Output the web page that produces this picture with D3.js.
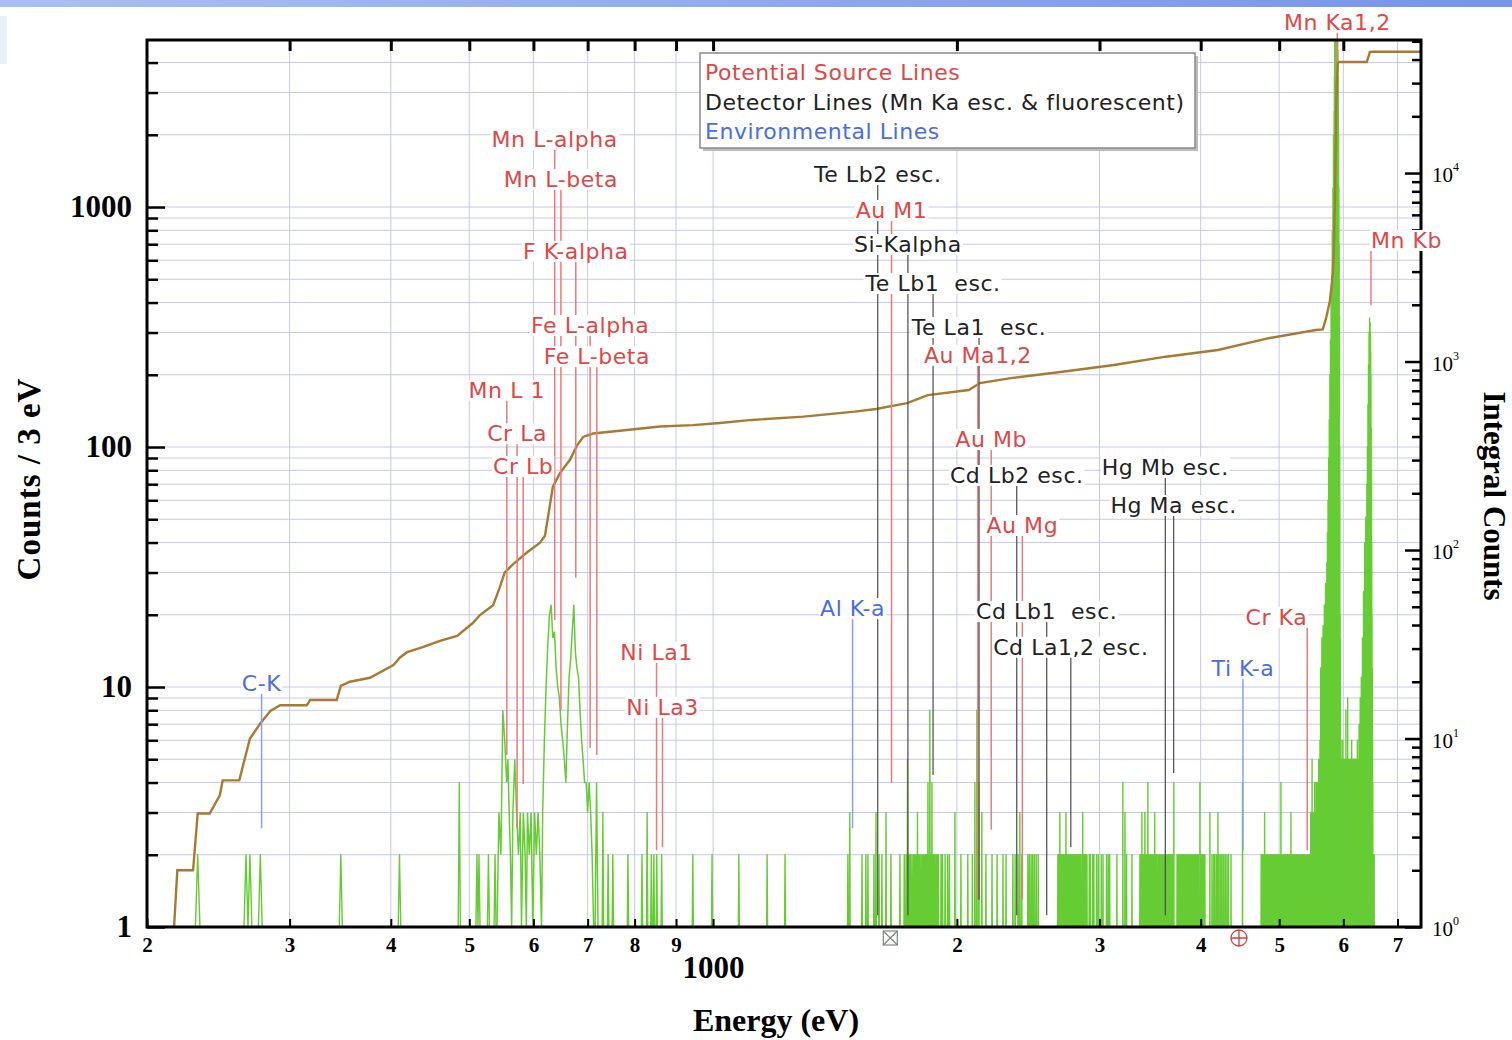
<!DOCTYPE html>
<html>
<head>
<meta charset="utf-8">
<script src="https://cdn.jsdelivr.net/npm/d3@7"></script>
<style>
  body { margin: 0; background: #fff; }
  svg { display: block; }
</style>
</head>
<body>
<svg id="chart" width="1512" height="1040"></svg>
<script>
// ---------------- axis ticks ----------------
const xTicks = [200, 300, 400, 500, 600, 700, 800, 900, 1000, 2000, 3000, 4000, 5000, 6000, 7000];
const xTickLabels = ["2", "3", "4", "5", "6", "7", "8", "9", "1000", "2", "3", "4", "5", "6", "7"];
const yTicks = [1, 10, 100, 1000];
const yTickLabels = ["1", "10", "100", "1000"];
const integralExponents = [0, 1, 2, 3, 4];

// ---------------- spectrum (counts per 3 eV bin) ----------------
// isolated low-energy bins [energy eV, counts]
const lowBins = [[231, 2], [265, 2], [268, 2], [276, 2], [347, 2], [410, 2], [486, 4], [511, 2], [514, 2],
  [528, 2], [538, 2], [731, 3], [742, 2], [752, 2], [785, 2], [817, 2], [829, 3], [839, 2], [845, 2],
  [852, 2], [864, 2], [944, 2], [997, 2], [1076, 2], [1166, 2], [1227, 2]];

// contiguous bins through the Mn L / F K / Fe L band
const lBandE = [541, 544, 547, 550, 553, 556, 558, 560, 562, 564, 566, 569, 572, 575, 578, 580, 583, 586, 588, 590,
  593, 596, 599, 602, 605, 608, 611, 614, 616, 619, 622, 625, 628, 631, 634, 637, 640, 643, 646, 649,
  652, 655, 658, 661, 664, 667, 670, 673, 676, 679, 682, 685, 688, 691, 694, 697, 700, 703, 706, 709,
  712, 715, 718, 721];
const lBandC = [1, 3, 2, 8, 6, 4, 5, 3, 2, 1, 3, 5, 3, 2, 3, 1, 3, 2, 1, 3,
  2, 3, 1, 3, 2, 3, 2, 1, 3, 6, 10, 15, 20, 22, 16, 17, 12, 10, 9, 7,
  6, 5, 4, 7, 11, 13, 17, 22, 14, 12, 11, 8, 6, 5, 4, 4, 3, 4, 3, 2,
  1, 1, 4, 1];

// 1.4 - 5.5 keV: bins holding 2 counts
const midTwos = [1467, 1527, 1544, 1553, 1580, 1603, 1616, 1658, 1701,
  1722, 1731, 1745, 1752, 1760, 1768, 1775, 1781, 1795, 1802, 1810, 1816, 1823, 1830, 1836, 1848, 1857, 1870,
  1876, 1884, 1890, 1897, 1912, 1920, 1934, 1948, 1958,
  2023, 2063, 2090, 2172, 2210, 2242, 2280, 2300, 2345, 2360, 2380, 2405, 2447, 2458, 2470, 2481, 2493, 2506, 2520,
  2665, 2673, 2688, 2696, 2705, 2713, 2720, 2735, 2743, 2752, 2760, 2768, 2776, 2785, 2795, 2803, 2812, 2820,
  2830, 2838, 2847, 2868, 2877, 2886, 2895, 2914, 2923, 2942, 2952, 2975, 2990, 3015, 3030, 3060, 3075, 3088,
  3152, 3240, 3290,
  3365, 3372, 3392, 3400, 3420, 3430, 3450, 3460, 3470, 3480, 3490, 3500, 3520, 3530, 3545, 3558, 3570, 3582,
  3595, 3610, 3622, 3635, 3648, 3660, 3672, 3685, 3695,
  3740, 3752, 3765, 3778, 3790, 3803, 3815, 3828, 3840, 3853, 3866, 3880, 3893, 3906, 3920, 3933, 3946, 3960,
  3973, 4005, 4020, 4035, 4048,
  4130, 4150, 4165, 4185, 4215, 4235, 4250, 4270, 4290, 4310, 4330, 4360,
  4750, 4765, 4780, 4810, 4825, 4840, 4856, 4870, 4885, 4900, 4916, 4932, 4948, 4964, 4980, 4996, 5010, 5040,
  5056, 5072, 5090, 5106, 5122, 5140, 5156, 5175, 5192, 5210, 5228, 5246, 5264, 5282, 5300, 5320, 5340, 5360,
  5380, 5400, 5420, 5440];

// 1.4 - 5.5 keV: bins above 2 counts [energy eV, counts]
const midPeaks = [[1475, 3], [1589, 3], [1635, 3], [1738, 5], [1788, 3], [1842, 4], [1852, 8], [1863, 4],
  [1989, 3], [2105, 4], [2117, 8], [2129, 4], [2147, 3], [2392, 3], [2680, 3], [2727, 3], [2860, 3],
  [3206, 4], [3225, 3], [3384, 3], [3413, 3], [3442, 4], [3510, 3], [3706, 4], [3991, 4], [4106, 3],
  [4201, 3], [4505, 4], [4797, 3], [5025, 4], [5170, 3]];

// Mn K region bins [energy eV, counts]
const mnKBins = [[5456, 2], [5470, 3], [5490, 5], [5500, 2], [5510, 3], [5520, 2], [5530, 4], [5540, 2], [5545, 3],
  [5555, 4], [5562, 2], [5565, 3], [5575, 4], [5580, 2], [5585, 3], [5595, 5], [5600, 2], [5605, 4], [5610, 2],
  [5615, 6], [5620, 3], [5625, 12], [5630, 5], [5635, 8], [5640, 4], [5645, 16], [5650, 6], [5655, 10], [5660, 5],
  [5665, 18], [5670, 8], [5675, 14], [5680, 9], [5685, 22], [5690, 12], [5695, 19], [5700, 10], [5705, 27],
  [5710, 15], [5715, 24], [5720, 18], [5725, 33], [5730, 25], [5735, 44], [5740, 35], [5745, 60], [5750, 50],
  [5755, 90], [5760, 75], [5765, 130], [5770, 110], [5775, 200], [5780, 170], [5785, 280], [5790, 250],
  [5795, 400], [5800, 360], [5805, 520], [5810, 480], [5815, 800], [5820, 700], [5825, 1200], [5830, 1000],
  [5835, 2000], [5840, 1800], [5845, 2500], [5850, 3500], [5855, 5200], [5860, 6000], [5865, 7000], [5870, 7500],
  [5875, 8000], [5880, 8000], [5885, 8000], [5890, 7800], [5895, 7500], [5900, 7000], [5905, 6000], [5910, 4500],
  [5915, 3500], [5920, 2000], [5925, 1200], [5930, 700], [5935, 350], [5940, 100], [5942, 60], [5946, 20],
  [5950, 16], [5960, 6], [5966, 3], [5970, 5], [5976, 2], [5980, 4], [5985, 3], [5990, 6], [5995, 2], [6000, 3],
  [6005, 4], [6010, 5], [6015, 2], [6020, 4], [6025, 3], [6030, 5], [6038, 2], [6045, 8], [6050, 4], [6055, 5],
  [6060, 3], [6065, 4], [6070, 2], [6075, 9], [6080, 4], [6085, 5], [6090, 2], [6095, 3], [6100, 4], [6105, 5],
  [6110, 2], [6115, 4], [6120, 3], [6125, 5], [6130, 2], [6135, 3], [6140, 4], [6145, 6], [6150, 3], [6155, 5],
  [6160, 2], [6165, 4], [6170, 3], [6175, 5], [6180, 4], [6185, 2], [6190, 3], [6195, 5], [6200, 2], [6205, 4],
  [6210, 3], [6215, 5], [6220, 2], [6225, 3], [6230, 4], [6235, 5], [6240, 3], [6245, 6], [6250, 4], [6255, 4],
  [6260, 2], [6265, 5], [6270, 3], [6275, 7], [6280, 4], [6285, 5], [6290, 3], [6295, 9], [6300, 5], [6305, 6],
  [6310, 4], [6315, 11], [6320, 6], [6325, 8], [6330, 5], [6335, 16], [6340, 8], [6345, 12], [6350, 10],
  [6355, 25], [6360, 14], [6365, 20], [6370, 18], [6375, 40], [6380, 25], [6385, 30], [6390, 28], [6395, 51],
  [6400, 40], [6405, 45], [6410, 50], [6415, 70], [6420, 60], [6425, 100], [6430, 90], [6435, 150], [6440, 130],
  [6445, 220], [6450, 200], [6455, 300], [6460, 280], [6465, 345], [6470, 330], [6475, 330], [6480, 300],
  [6485, 250], [6490, 200], [6495, 120], [6500, 80], [6505, 40], [6510, 20], [6515, 12], [6520, 6], [6525, 4],
  [6535, 2], [6550, 2]];

// ---------------- running integral (right axis) ----------------
const integralE = [200, 216, 218, 228, 231, 239, 246, 248, 260, 268, 276, 284, 292, 315, 318, 343, 347, 356, 377, 403,
  411, 419, 438, 460, 483, 505, 515, 535, 545, 553, 566, 589, 611, 620, 625, 634, 647, 666, 679, 691,
  711, 783, 860, 944, 1020, 1117, 1293, 1496, 1589, 1736, 1842, 2069, 2135, 2332, 2700, 3126, 3623, 4201, 4870, 5549,
  5661, 5719, 5775, 5808, 5824, 5841, 5858, 5886, 5908, 6415, 6470, 6507, 7483];
const integralC = [1, 1, 2, 2, 4, 4, 5, 6, 6, 10, 12, 14, 15, 15, 16, 16, 19, 20, 21, 24.5,
  27, 28.7, 30.5, 33, 35, 41, 45, 51, 63, 76, 84, 97, 109, 119, 147, 216, 256, 302, 358, 398,
  415, 433, 452, 460, 472, 490, 510, 542, 560, 602, 664, 706, 769, 817, 883, 958, 1061, 1152, 1334, 1469,
  1480, 1729, 2094, 2609, 2985, 3905, 6934, 28240, 38800, 38800, 43850, 44000, 44000];

// ---------------- line identifications (energy eV) ----------------
const sourceLines = [
  ["Mn L-alpha", 637.4], ["Mn L-beta", 648.8], ["F K-alpha", 676.8], ["Fe L-alpha", 705.0], ["Fe L-beta", 718.5],
  ["Mn L 1", 556.3], ["Cr La", 572.8], ["Cr Lb", 582.8], ["Ni La1", 851.5], ["Ni La3", 866.0],
  ["Au M1", 1661], ["Au Ma1,2", 2122.9], ["Au Mb", 2204.8], ["Au Mg", 2409.0], ["Cr Ka", 5414.7],
  ["Mn Ka1,2", 5898.8], ["Mn Kb", 6490.4]];
const detectorLines = [
  ["Te Lb2 esc.", 1597], ["Si-Kalpha", 1740], ["Te Lb1  esc.", 1869], ["Te La1  esc.", 2130],
  ["Cd Lb2 esc.", 2371], ["Cd Lb1  esc.", 2582], ["Cd La1,2 esc.", 2765], ["Hg Mb esc.", 3617], ["Hg Ma esc.", 3704]];
const environmentalLines = [["C-K", 277], ["Al K-a", 1486.7], ["Ti K-a", 4510.8]];

// tag placement: [label height (counts), line end (counts), anchor]
const tagPlacement = {
  "Mn L-alpha": [1919, 19, "middle"], "Mn L-beta": [1308, 8.0, "middle"], "F K-alpha": [656, 28.5, "middle"],
  "Fe L-alpha": [322, 5.57, "middle"], "Fe L-beta": [239, 5.21, "middle"], "Mn L 1": [173, 5.21, "middle"],
  "Cr La": [114, 2.58, "middle"], "Cr Lb": [83.3, 3.94, "middle"], "Ni La1": [14.0, 2.09, "middle"],
  "Ni La3": [8.26, 2.15, "middle"], "Au M1": [972, 3.98, "middle"], "Au Ma1,2": [242, 1.30, "middle"],
  "Au Mb": [108, 2.54, "middle"], "Au Mg": [47.3, 1.30, "middle"], "Cr Ka": [19.6, 2.09, "end"],
  "Mn Ka1,2": [5902, 4000, "middle"], "Mn Kb": [729, 390, "start"],
  "Te Lb2 esc.": [1373, 1.12, "middle"], "Si-Kalpha": [701, 1.12, "middle"], "Te Lb1  esc.": [482, 4.3, "middle"],
  "Te La1  esc.": [316, 1.30, "middle"], "Cd Lb2 esc.": [76.4, 1.12, "middle"], "Cd Lb1  esc.": [20.7, 1.12, "middle"],
  "Cd La1,2 esc.": [14.7, 2.15, "middle"], "Hg Mb esc.": [82.5, 1.12, "middle"], "Hg Ma esc.": [57.3, 4.38, "middle"],
  "C-K": [10.4, 2.58, "middle"], "Al K-a": [21.3, 2.58, "middle"], "Ti K-a": [12.0, 2.09, "middle"]
};

const legendItems = ["Potential Source Lines", "Detector Lines (Mn Ka esc. & fluorescent)", "Environmental Lines"];
const cursorMarks = [["square", 1655], ["circle", 4460]];

// ---------------- layout ----------------
const plot = { left: 147, right: 1421, top: 40, bottom: 927 };
const colors = {
  source: "#e04848", sourceLine: "#ec7a7a",
  detector: "#222222", detectorLine: "#4a4a4a",
  env: "#4a6ee0", envLine: "#86a2ea",
  green: "#66cc33", brown: "#a87a32", grid: "#c6c8f2"
};
const tagFont = { family: "DejaVu Sans", size: 22, spacing: "0.55px" };

const svg = d3.select("#chart");
const x = d3.scaleLog().domain([200, 7483]).range([plot.left, plot.right]);
const y = d3.scaleLog().domain([1, 4966]).range([plot.bottom, plot.top]);
const yInt = d3.scaleLog().domain([1, 50800]).range([plot.bottom, plot.top]);

// top banner
const defs = svg.append("defs");
const grad = defs.append("linearGradient").attr("id", "band").attr("x1", 0).attr("x2", 1);
grad.append("stop").attr("offset", 0).attr("stop-color", "#a9bff3");
grad.append("stop").attr("offset", 1).attr("stop-color", "#7694e8");
svg.append("rect").attr("x", 0).attr("y", 0).attr("width", 1512).attr("height", 7).attr("fill", "url(#band)");
svg.append("rect").attr("x", 0).attr("y", 16).attr("width", 7).attr("height", 48).attr("fill", "#eaf0fa");

defs.append("clipPath").attr("id", "plotClip").append("rect")
  .attr("x", plot.left).attr("y", plot.top)
  .attr("width", plot.right - plot.left).attr("height", plot.bottom - plot.top);

// grid
const minorY = [];
[1, 10, 100, 1000].forEach(d => [1, 2, 3, 4, 5, 6, 7, 8, 9].forEach(m => {
  const v = m * d; if (v > 1 && v <= 4966) minorY.push(v);
}));
const grid = svg.append("g").attr("stroke", colors.grid).attr("stroke-width", 1);
grid.selectAll("line.gx").data(xTicks.filter(v => v > 200)).join("line")
  .attr("x1", d => x(d)).attr("x2", d => x(d)).attr("y1", plot.top).attr("y2", plot.bottom);
grid.selectAll("line.gy").data(minorY).join("line")
  .attr("x1", plot.left).attr("x2", plot.right).attr("y1", d => y(d)).attr("y2", d => y(d));

// spectrum
const specG = svg.append("g").attr("clip-path", "url(#plotClip)");
const spikePath = bins => bins.map(([e, c]) =>
  `M${x(e - 1.5)},${y(1)}L${x(e)},${y(c)}L${x(e + 1.5)},${y(1)}`).join("");
const allSpikes = lowBins.concat(midTwos.map(e => [e, 2]), midPeaks, mnKBins);
specG.append("path").attr("d", spikePath(allSpikes))
  .attr("fill", "none").attr("stroke", colors.green).attr("stroke-width", 1.4).attr("stroke-linejoin", "round");
specG.append("path").datum(lBandE.map((e, i) => [e, lBandC[i]]))
  .attr("d", d3.line().x(d => x(d[0])).y(d => y(d[1])))
  .attr("fill", "none").attr("stroke", colors.green).attr("stroke-width", 1.5);

// running integral
specG.append("path").datum(integralE.map((e, i) => [e, integralC[i]]))
  .attr("d", d3.line().x(d => x(d[0])).y(d => yInt(d[1])))
  .attr("fill", "none").attr("stroke", colors.brown).attr("stroke-width", 2.4);

// identification lines
const groups = [
  [sourceLines, colors.sourceLine, colors.source, 1.5],
  [detectorLines, colors.detectorLine, colors.detector, 1.2],
  [environmentalLines, colors.envLine, colors.env, 1.5]
];
const lineG = svg.append("g");
groups.forEach(([list, lc, tc, w]) => {
  list.forEach(([name, e]) => {
    const p = tagPlacement[name];
    lineG.append("line").attr("x1", x(e)).attr("x2", x(e))
      .attr("y1", y(p[0])).attr("y2", y(p[1])).attr("stroke", lc).attr("stroke-width", w);
  });
});

// axes
const axG = svg.append("g").attr("color", "#000");
const bottomAxis = axG.append("g").attr("transform", `translate(0,${plot.bottom})`)
  .call(d3.axisBottom(x).tickValues(xTicks).tickSize(-8).tickPadding(10)
    .tickFormat((d, i) => xTickLabels[i]));
bottomAxis.selectAll("text").attr("font-family", "Liberation Serif").attr("font-weight", "bold")
  .attr("font-size", 21);
bottomAxis.selectAll(".tick").filter(d => d === 1000).select("text")
  .attr("font-size", 31).attr("y", 29);
bottomAxis.selectAll("line").attr("stroke-width", 2);

const topAxis = axG.append("g").attr("transform", `translate(0,${plot.top})`)
  .call(d3.axisTop(x).tickValues(xTicks.filter(v => v > 200 && v < 7000)).tickSize(-11).tickFormat(""));
topAxis.selectAll("line").attr("stroke-width", 3);

const leftAxis = axG.append("g").attr("transform", `translate(${plot.left},0)`)
  .call(d3.axisLeft(y).tickValues(yTicks).tickSize(-18).tickPadding(15).tickFormat((d, i) => yTickLabels[i]));
leftAxis.selectAll("text").attr("font-family", "Liberation Serif").attr("font-weight", "bold").attr("font-size", 31);
leftAxis.selectAll("line").attr("stroke-width", 2.5);
const leftMinor = axG.append("g").attr("transform", `translate(${plot.left},0)`)
  .call(d3.axisLeft(y).tickValues(minorY.filter(v => !yTicks.includes(v))).tickSize(-11).tickFormat(""));
leftMinor.selectAll("line").attr("stroke-width", 2.5);

const rightMinorVals = [];
[1, 10, 100, 1000, 10000].forEach(d => [2, 3, 4, 5, 6, 7, 8, 9].forEach(m => {
  if (m * d <= 50800) rightMinorVals.push(m * d);
}));
const rightMajor = axG.append("g").attr("transform", `translate(${plot.right},0)`)
  .call(d3.axisRight(yInt).tickValues(integralExponents.map(k => Math.pow(10, k))).tickSize(-16).tickFormat(""));
rightMajor.selectAll("line").attr("stroke-width", 2.5);
const rightMinor = axG.append("g").attr("transform", `translate(${plot.right},0)`)
  .call(d3.axisRight(yInt).tickValues(rightMinorVals).tickSize(-9).tickFormat(""));
rightMinor.selectAll("line").attr("stroke-width", 2.5);
[bottomAxis, topAxis, leftAxis, leftMinor, rightMajor, rightMinor].forEach(g => g.select(".domain").remove());

const rightLabels = axG.append("g").attr("font-family", "Liberation Serif").attr("fill", "#000");
integralExponents.forEach(k => {
  const yy = yInt(Math.pow(10, k));
  const t = rightLabels.append("text").attr("x", 1432).attr("y", yy + 9).attr("font-size", 21);
  t.append("tspan").text("10");
  t.append("tspan").attr("dy", -11).attr("font-size", 12).text(String(k));
});

// frame
svg.append("rect").attr("x", plot.left).attr("y", plot.top)
  .attr("width", plot.right - plot.left).attr("height", plot.bottom - plot.top)
  .attr("fill", "none").attr("stroke", "#000").attr("stroke-width", 3);

// tags (opaque boxes sit above lines and axes)
const tagG = svg.append("g").attr("font-family", tagFont.family).attr("font-size", tagFont.size)
  .style("letter-spacing", tagFont.spacing);
groups.forEach(([list, lc, tc]) => {
  list.forEach(([name, e]) => {
    const p = tagPlacement[name];
    const t = tagG.append("text").attr("x", x(e)).attr("y", y(p[0])).attr("dy", "0.36em")
      .attr("text-anchor", p[2]).attr("fill", tc).style("white-space", "pre").text(name);
    const bb = t.node().getBBox();
    tagG.insert("rect", () => t.node()).attr("x", bb.x - 1).attr("y", bb.y + 2)
      .attr("width", bb.width + 2).attr("height", bb.height - 4).attr("fill", "#fff");
  });
});

// legend
const lg = svg.append("g");
lg.append("rect").attr("x", 703).attr("y", 56).attr("width", 495).attr("height", 95).attr("fill", "#bdbdbd");
lg.append("rect").attr("x", 700).attr("y", 53).attr("width", 495).attr("height", 95)
  .attr("fill", "#fff").attr("stroke", "#8a8a8a").attr("stroke-width", 1.5);
const legendColors = [colors.source, colors.detector, colors.env];
lg.selectAll("text").data(legendItems).join("text")
  .attr("x", 705).attr("y", (d, i) => 80 + i * 29.5)
  .attr("font-family", tagFont.family).attr("font-size", tagFont.size).style("letter-spacing", tagFont.spacing)
  .attr("fill", (d, i) => legendColors[i]).text(d => d);

// cursor marks on the energy axis
cursorMarks.forEach(([shape, e]) => {
  const cx = x(e), cy = 938;
  if (shape === "square") {
    const g = svg.append("g").attr("stroke", "#7d8a7d").attr("stroke-width", 1.2).attr("fill", "none");
    g.append("rect").attr("x", cx - 7).attr("y", cy - 7).attr("width", 14).attr("height", 14);
    g.append("path").attr("d", `M${cx - 7},${cy - 7}L${cx + 7},${cy + 7}M${cx + 7},${cy - 7}L${cx - 7},${cy + 7}`);
  } else {
    const g = svg.append("g").attr("stroke", "#d04040").attr("stroke-width", 1.3).attr("fill", "none");
    g.append("circle").attr("cx", cx).attr("cy", cy).attr("r", 8);
    g.append("path").attr("d", `M${cx - 8},${cy}L${cx + 8},${cy}M${cx},${cy - 8}L${cx},${cy + 8}`);
  }
});

// axis titles
const titleFont = s => s.attr("font-family", "Liberation Serif").attr("font-weight", "bold");
svg.append("text").attr("x", 776).attr("y", 1031).attr("text-anchor", "middle")
  .call(titleFont).attr("font-size", 32).text("Energy (eV)");
svg.append("text").attr("transform", "translate(40,479) rotate(-90)").attr("text-anchor", "middle")
  .call(titleFont).attr("font-size", 33).style("letter-spacing", "1px").text("Counts / 3 eV");
svg.append("text").attr("transform", "translate(1484,496) rotate(90)").attr("text-anchor", "middle")
  .call(titleFont).attr("font-size", 31).text("Integral Counts");
</script>
</body>
</html>
